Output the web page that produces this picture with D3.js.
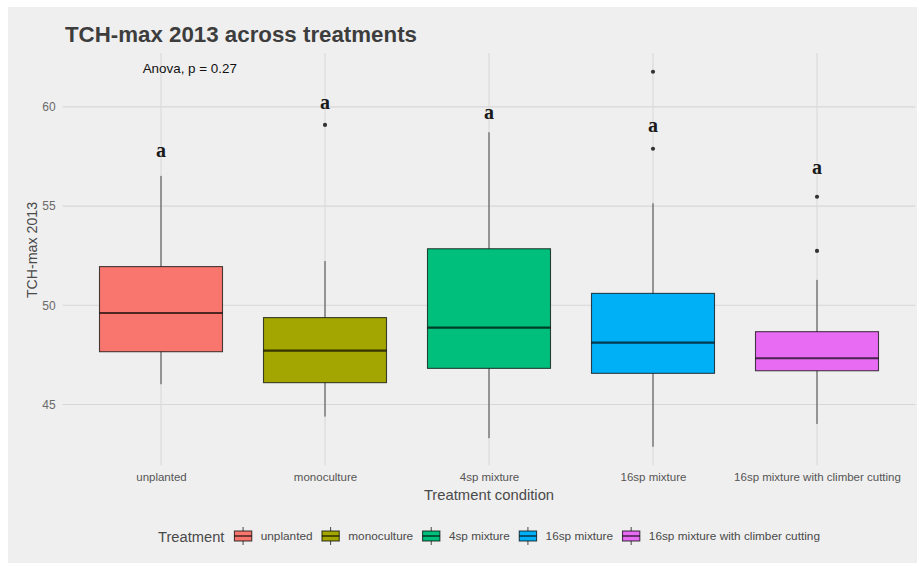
<!DOCTYPE html>
<html>
<head>
<meta charset="utf-8">
<script src="https://cdn.jsdelivr.net/npm/d3@7/dist/d3.min.js"></script>
<style>
  body { margin: 0; background: #ffffff; }
  svg text { font-family: Arial, "Liberation Sans", sans-serif; }
</style>
</head>
<body>
<svg id="chart" width="919" height="566"></svg>
<script>
// Treatment groups and their box-plot summaries (TCH-max 2013)
const categories = ["unplanted", "monoculture", "4sp mixture", "16sp mixture", "16sp mixture with climber cutting"];
const whiskerLow  = [46.02, 44.39, 43.30, 42.87, 44.02];
const q1          = [47.66, 46.10, 46.82, 46.57, 46.70];
const medians     = [49.61, 47.71, 48.87, 48.12, 47.33];
const q3          = [51.95, 49.38, 52.85, 50.60, 48.67];
const whiskerHigh = [56.52, 52.23, 58.72, 55.14, 51.28];
const outliers    = [[], [59.09], [], [61.77, 57.89], [55.47, 52.74]];
// Compact-letter display above each group
const groupLetters = ["a", "a", "a", "a", "a"];
const letterY      = [57.70, 60.10, 59.60, 58.95, 56.82];
const yTicks = [45, 50, 55, 60];
const anovaLabel = "Anova, p = 0.27";
const anovaY = 61.95;

const palette = ["#F8766D", "#A3A500", "#00BF7D", "#00B0F6", "#E76BF3"];

const W = 919, H = 566;
const panel = { left: 62.6, right: 915.4, top: 53, bottom: 465.5 };

const svg = d3.select("#chart");

// figure background
svg.append("rect").attr("x", 0).attr("y", 0).attr("width", W).attr("height", H).attr("fill", "#ffffff");
svg.append("rect").attr("x", 8).attr("y", 7).attr("width", 909).attr("height", 556).attr("fill", "#efefef");

const rows = categories.map((c, i) => ({
  cat: c, lo: whiskerLow[i], q1: q1[i], med: medians[i], q3: q3[i], hi: whiskerHigh[i],
  out: outliers[i], letter: groupLetters[i], ly: letterY[i]
}));

// y domain: data range with 5% expansion on both sides
const allVals = rows.flatMap(r => [r.lo, r.hi, ...r.out]);
const [dMin, dMax] = d3.extent(allVals);
const pad = (dMax - dMin) * 0.05;
const y = d3.scaleLinear().domain([dMin - pad, dMax + pad]).range([panel.bottom, panel.top]);

const x = d3.scalePoint().domain(categories).range([panel.left, panel.right]).padding(0.6);
const color = d3.scaleOrdinal().domain(categories).range(palette);
const boxW = x.step() * 0.75;

// grid
const grid = svg.append("g");
grid.selectAll("line.h").data(yTicks).join("line")
  .attr("x1", panel.left).attr("x2", panel.right)
  .attr("y1", d => y(d)).attr("y2", d => y(d))
  .attr("stroke", "#d7d7d7").attr("stroke-width", 1.1);
grid.selectAll("line.v").data(categories).join("line")
  .attr("x1", d => x(d)).attr("x2", d => x(d))
  .attr("y1", panel.top).attr("y2", panel.bottom)
  .attr("stroke", "#d9d9d9").attr("stroke-width", 1.1);

// axes (text only, theme without axis lines)
const yAxis = svg.append("g").attr("transform", `translate(${panel.left - 4},0)`)
  .call(d3.axisLeft(y).tickValues(yTicks).tickSize(0).tickPadding(3));
yAxis.select(".domain").remove();
yAxis.selectAll("text").attr("font-size", 12).attr("fill", "#6a6a6a")
  .attr("font-family", "Arial, 'Liberation Sans', sans-serif");

const xAxis = svg.append("g").attr("transform", `translate(0,${panel.bottom + 4})`)
  .call(d3.axisBottom(x).tickSize(0).tickPadding(3));
xAxis.select(".domain").remove();
xAxis.selectAll("text").attr("font-size", 11.5).attr("fill", "#555555")
  .attr("font-family", "Arial, 'Liberation Sans', sans-serif");

// boxes
const boxes = svg.append("g").selectAll("g.box").data(rows).join("g");
const lineCol = "rgba(0,0,0,0.7)";

boxes.append("line")
  .attr("x1", d => x(d.cat)).attr("x2", d => x(d.cat))
  .attr("y1", d => y(d.q3)).attr("y2", d => y(d.hi))
  .attr("stroke", lineCol).attr("stroke-width", 1);
boxes.append("line")
  .attr("x1", d => x(d.cat)).attr("x2", d => x(d.cat))
  .attr("y1", d => y(d.q1)).attr("y2", d => y(d.lo))
  .attr("stroke", lineCol).attr("stroke-width", 1);
boxes.append("rect")
  .attr("x", d => x(d.cat) - boxW / 2).attr("width", boxW)
  .attr("y", d => y(d.q3)).attr("height", d => y(d.q1) - y(d.q3))
  .attr("fill", d => color(d.cat))
  .attr("stroke", lineCol).attr("stroke-width", 1.1);
boxes.append("line")
  .attr("x1", d => x(d.cat) - boxW / 2).attr("x2", d => x(d.cat) + boxW / 2)
  .attr("y1", d => y(d.med)).attr("y2", d => y(d.med))
  .attr("stroke", "rgba(0,0,0,0.68)").attr("stroke-width", 2.2);
boxes.selectAll("circle").data(d => d.out.map(v => ({ cat: d.cat, v }))).join("circle")
  .attr("cx", d => x(d.cat)).attr("cy", d => y(d.v)).attr("r", 2.1)
  .attr("fill", "#333333");

// group letters
svg.append("g").selectAll("text").data(rows).join("text")
  .attr("x", d => x(d.cat)).attr("y", d => y(d.ly) + 4.5)
  .attr("text-anchor", "middle")
  .style("font-family", "'Liberation Serif', 'DejaVu Serif', serif")
  .attr("font-weight", "bold").attr("font-size", 20).attr("fill", "#1a1a1a")
  .text(d => d.letter);

// ANOVA annotation
svg.append("text")
  .attr("x", x(categories[0]) - 18.3).attr("y", y(anovaY) + 4.8)
  .attr("font-size", 13.4).attr("fill", "#111111")
  .text(anovaLabel);

// title and axis titles
svg.append("text").attr("x", 65).attr("y", 41.5)
  .attr("font-size", 22.3).attr("font-weight", "bold").attr("fill", "#3d3d3d")
  .text("TCH-max 2013 across treatments");

svg.append("text")
  .attr("transform", `translate(37,${250}) rotate(-90)`)
  .attr("text-anchor", "middle").attr("font-size", 14.2).attr("fill", "#4a4a4a")
  .text("TCH-max 2013");

svg.append("text")
  .attr("x", (panel.left + panel.right) / 2).attr("y", 499.5)
  .attr("text-anchor", "middle").attr("font-size", 14.8).attr("fill", "#4a4a4a")
  .text("Treatment condition");

// legend
const legend = svg.append("g");
const legTitle = legend.append("text").attr("x", 0).attr("y", 0)
  .attr("font-size", 14.7).attr("fill", "#4a4a4a").text("Treatment");
let cursor = legTitle.node().getComputedTextLength() + 10;
const keyW = 17.3;
categories.forEach(c => {
  const k = legend.append("g").attr("transform", `translate(${cursor},0)`);
  const cx = keyW / 2;
  // whiskers
  k.append("line").attr("x1", cx).attr("x2", cx).attr("y1", -14.5).attr("y2", -10.5)
    .attr("stroke", lineCol).attr("stroke-width", 1);
  k.append("line").attr("x1", cx).attr("x2", cx).attr("y1", -0.5).attr("y2", 3.5)
    .attr("stroke", lineCol).attr("stroke-width", 1);
  k.append("rect").attr("x", 0).attr("y", -10.5).attr("width", keyW).attr("height", 10)
    .attr("fill", color(c)).attr("stroke", lineCol).attr("stroke-width", 1.1);
  k.append("line").attr("x1", 0).attr("x2", keyW).attr("y1", -5.5).attr("y2", -5.5)
    .attr("stroke", "rgba(0,0,0,0.68)").attr("stroke-width", 1.6);
  const t = k.append("text").attr("x", keyW + 9).attr("y", -1.5)
    .attr("font-size", 11.8).attr("fill", "#4a4a4a").text(c);
  cursor += keyW + 9 + t.node().getComputedTextLength() + 9.4;
});
const legWidth = cursor - 9.4;
legend.attr("transform", `translate(${(panel.left + panel.right) / 2 - legWidth / 2},541.5)`);
</script>
</body>
</html>
